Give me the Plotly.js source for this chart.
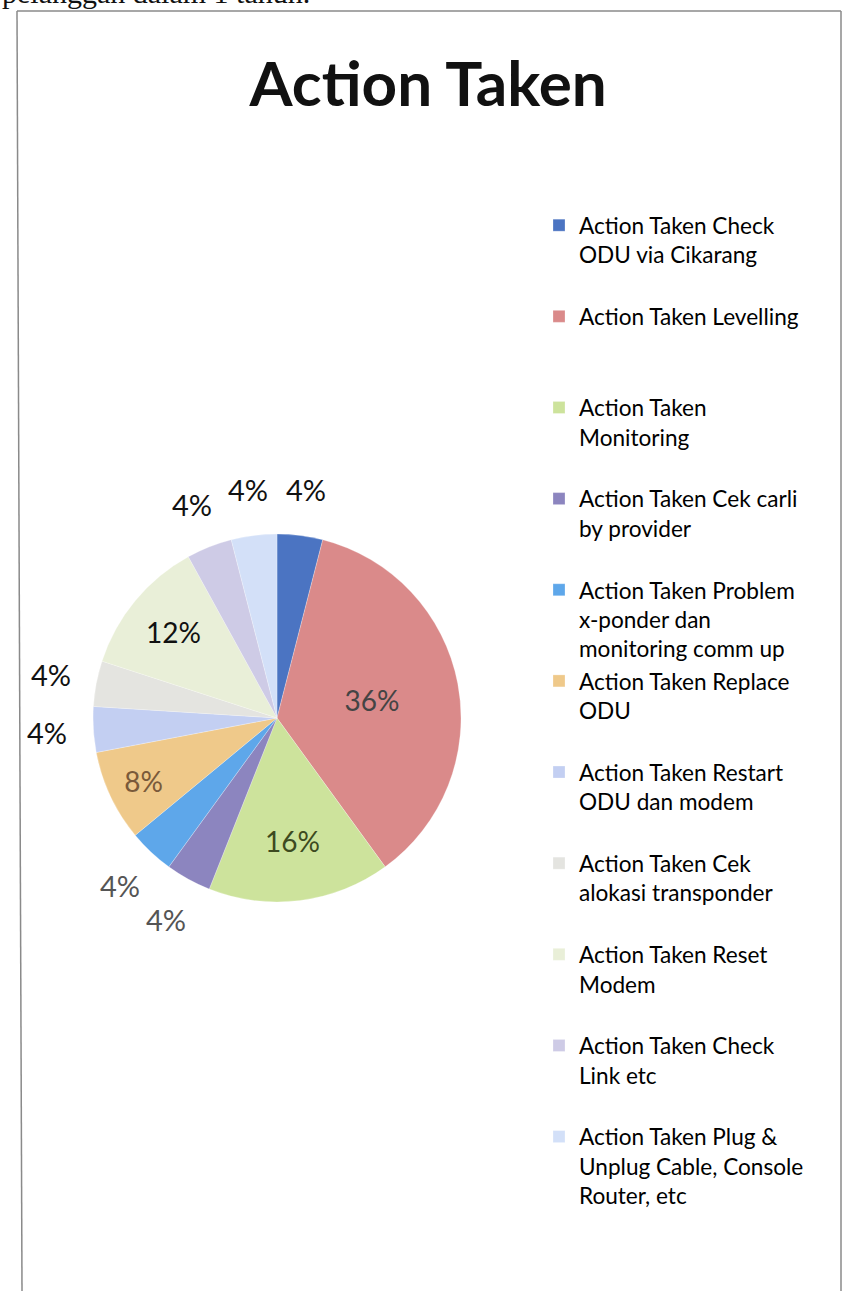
<!DOCTYPE html>
<html>
<head>
<meta charset="utf-8">
<script src="https://cdn.plot.ly/plotly-3.0.1.min.js"></script>
<style>html,body{margin:0;padding:0;background:#fff;}#chart{width:853px;height:1291px;}</style>
</head>
<body>
<div id="chart"></div>
<script>
// ---- data ----
var categories = [
  "Action Taken Check<br>ODU via Cikarang",
  "Action Taken Levelling",
  "Action Taken<br>Monitoring",
  "Action Taken Cek carli<br>by provider",
  "Action Taken Problem<br>x-ponder dan<br>monitoring comm up",
  "Action Taken Replace<br>ODU",
  "Action Taken Restart<br>ODU dan modem",
  "Action Taken Cek<br>alokasi transponder",
  "Action Taken Reset<br>Modem",
  "Action Taken Check<br>Link etc",
  "Action Taken Plug &<br>Unplug Cable, Console<br>Router, etc"
];
var shares = [4, 36, 16, 4, 4, 8, 4, 4, 12, 4, 4];
var titleText = "Action Taken";
var topText = "pelanggan dalam 1 tahun.";

// ---- style ----
var sliceColors = ["#4b74c2", "#da8a8a", "#cde39c", "#8c85bf", "#5ea7ea", "#efc98a",
                   "#c3cff2", "#e4e4e0", "#e9efd8", "#cecbe6", "#d3e0f8"];
var labelColors = ["#111", "#444", "#3d4a20", "#555", "#555", "#7a5a3a",
                   "#111", "#111", "#111", "#111", "#111"];
// true = percentage drawn inside the slice, false = outside beside it
var labelInside = [false, true, true, false, false, true, false, false, true, false, false];

var legendLabels = categories.map(function (c) {
  var n = c.split("<br>").length;
  var s = c;
  for (var i = n; i < 3; i++) s += "<br> ";
  return s;
});

var W = 853, H = 1291;
var CX = 277, CY = 718, R = 184, LABEL_R = 230;
function px(x) { return x / W; }
function py(y) { return 1 - y / H; }

var font = "Lato, sans-serif";

var mainPie = {
  type: "pie",
  labels: legendLabels,
  values: shares,
  sort: false,
  direction: "clockwise",
  rotation: 0,
  marker: { colors: sliceColors, line: { color: "rgba(255,255,255,0.5)", width: 0.5 } },
  textinfo: "percent",
  textposition: labelInside.map(function (v) { return v ? "inside" : "none"; }),
  insidetextorientation: "horizontal",
  textfont: { family: font, size: 28, color: labelColors },
  domain: { x: [px(CX - R), px(CX + R)], y: [py(CY + R), py(CY - R)] },
  automargin: false
};

// outside percentage labels, centred on each slice's mid-angle (computed from the shares)
var total = shares.reduce(function (a, b) { return a + b; }, 0);
var outsideLabels = [];
var cum = 0;
shares.forEach(function (v, i) {
  var mid = (cum + v / 2) / total * 2 * Math.PI;
  cum += v;
  if (labelInside[i]) return;
  outsideLabels.push({
    text: Math.round(v / total * 100) + "%",
    xref: "paper", yref: "paper",
    x: px(CX + LABEL_R * Math.sin(mid)), y: py(CY - LABEL_R * Math.cos(mid)),
    xanchor: "center", yanchor: "middle", showarrow: false,
    font: { family: font, size: 29, color: labelColors[i] }
  });
});

var layout = {
  width: W, height: H,
  margin: { l: 0, r: 0, t: 0, b: 0 },
  paper_bgcolor: "#ffffff",
  showlegend: true,
  title: {
    text: "<b>" + titleText + "</b>",
    font: { family: font, size: 62, color: "#111" },
    x: 0.502, xanchor: "center",
    y: py(84), yanchor: "middle"
  },
  legend: {
    x: px(539), xanchor: "left",
    y: py(204), yanchor: "top",
    itemwidth: 30,
    valign: "top",
    font: { family: font, size: 22.6, color: "#000" },
    bgcolor: "rgba(0,0,0,0)",
    traceorder: "normal"
  },
  shapes: [
    { type: "line", xref: "paper", yref: "paper", x0: px(17), x1: px(841), y0: py(11), y1: py(11),
      line: { color: "#8a8a8a", width: 1.5 } },
    { type: "line", xref: "paper", yref: "paper", x0: px(17), x1: px(22), y0: py(11), y1: 0,
      line: { color: "#8a8a8a", width: 1.5 } },
    { type: "line", xref: "paper", yref: "paper", x0: px(841), x1: px(841), y0: py(11), y1: 0,
      line: { color: "#8a8a8a", width: 1.5 } }
  ],
  annotations: [
    { text: topText, xref: "paper", yref: "paper",
      x: 0, xanchor: "left", y: 1 + 8 / H, yanchor: "middle", showarrow: false,
      font: { family: "Liberation Serif, serif", size: 30, color: "#111" } }
  ].concat(outsideLabels)
};

Plotly.newPlot("chart", [mainPie], layout, { displayModeBar: false, staticPlot: true });
</script>
</body>
</html>
